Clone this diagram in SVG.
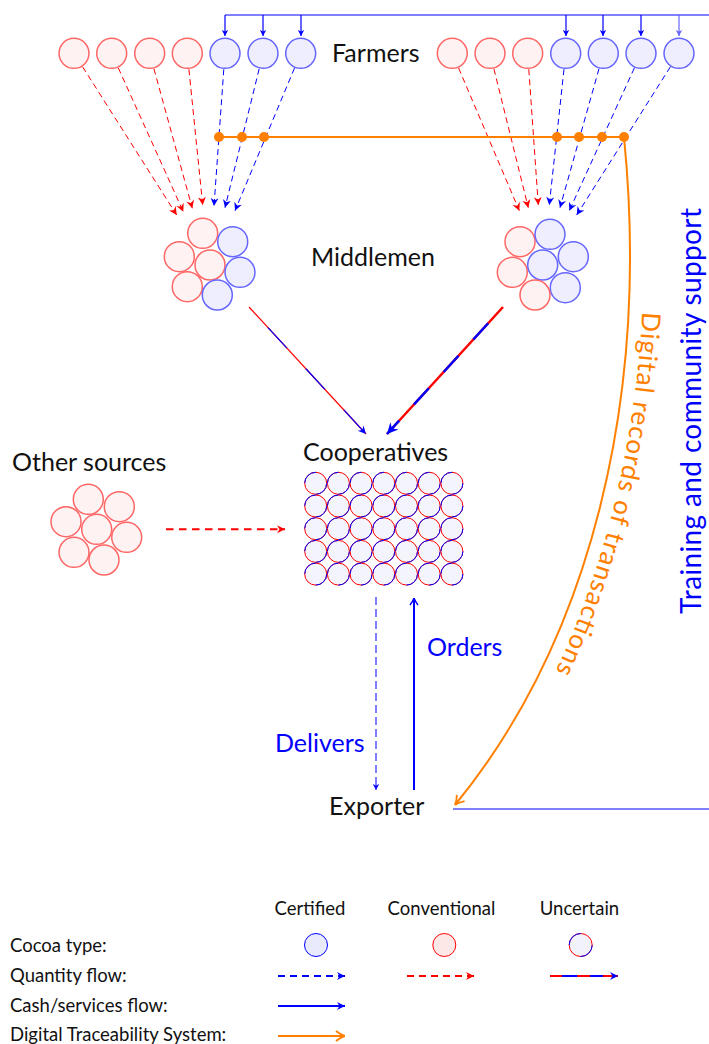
<svg xmlns="http://www.w3.org/2000/svg" xmlns:xlink="http://www.w3.org/1999/xlink" width="709" height="1044" viewBox="0 0 709 1044">
<style>
text { font-family: Lato, "Noto Sans", "DejaVu Sans", sans-serif; }
.lbl { font-size: 25px; fill: #111; }
.leg { font-size: 18.5px; fill: #111; }
.fr { fill: #fff2f2; stroke: #ff6666; stroke-width: 1.5; }
.fb { fill: #eeeeff; stroke: #6666ff; stroke-width: 1.5; }
.qr { fill: none; stroke: #ff0000; stroke-width: 1; stroke-dasharray: 6 4; marker-end: url(#hr); }
.qb { fill: none; stroke: #0000ff; stroke-width: 1; stroke-dasharray: 6 4; marker-end: url(#hb); }
.cash { fill: none; stroke: #0000ff; stroke-width: 1.2; }
.down { fill: none; stroke: #0000ff; stroke-width: 1.2; marker-end: url(#hbs); }
.org { fill: none; stroke: #ff8000; stroke-width: 2; }
.dot { fill: #ff8000; }
</style>
<defs>
<marker id="hr" viewBox="-10 -5 10 10" refX="0" refY="0" markerWidth="10" markerHeight="10" markerUnits="userSpaceOnUse" orient="auto"><path d="M0,0 L-8,-4 L-5.5,0 L-8,4 Z" fill="#ff0000"/></marker>
<marker id="hb" viewBox="-10 -5 10 10" refX="0" refY="0" markerWidth="10" markerHeight="10" markerUnits="userSpaceOnUse" orient="auto"><path d="M0,0 L-8,-4 L-5.5,0 L-8,4 Z" fill="#0000ff"/></marker>
<marker id="hbs" viewBox="-10 -5 10 10" refX="0" refY="0" markerWidth="10" markerHeight="10" markerUnits="userSpaceOnUse" orient="auto"><path d="M0,0 L-6,-3.2 L-4.5,0 L-6,3.2 Z" fill="#0000ff"/></marker>
<marker id="hbs2" viewBox="-10 -5 10 10" refX="0" refY="0" markerWidth="10" markerHeight="10" markerUnits="userSpaceOnUse" orient="auto"><path d="M0,0 L-6,-3.2 L-4.5,0 L-6,3.2 Z" fill="#6666ff"/></marker>
<marker id="hbig" viewBox="-14 -7 14 14" refX="0" refY="0" markerWidth="14" markerHeight="14" markerUnits="userSpaceOnUse" orient="auto"><path d="M0,0 L-11,-5.5 L-7.5,0 L-11,5.5 Z" fill="#0000ff"/></marker>
<marker id="hbo" viewBox="-10 -5 10 10" refX="0" refY="0" markerWidth="10" markerHeight="10" markerUnits="userSpaceOnUse" orient="auto"><path d="M-7,-4 Q-3,-1 0,0 Q-3,1 -7,4" fill="none" stroke="#0000ff" stroke-width="1.4"/></marker>
<marker id="ho" viewBox="-12 -6 12 12" refX="0" refY="0" markerWidth="12" markerHeight="12" markerUnits="userSpaceOnUse" orient="auto"><path d="M-9,-5 Q-4,-1 0,0 Q-4,1 -9,5" fill="none" stroke="#ff8000" stroke-width="1.8"/></marker>
<g id="uc"><circle r="11" fill="#f4f4fc" stroke="#ff0000" stroke-width="1"/><circle r="11" fill="none" stroke="#0000ff" stroke-width="1" stroke-dasharray="17.28 17.28"/></g>
<path id="tp" d="M638,137 C664,399 601,649 466,814"/>
</defs>

<g id="connectors">
  <!-- top cash/services line -->
  <path class="cash" d="M225,15 H712"/>
  <path class="down" d="M225,15 V36"/>
  <path class="down" d="M263,15 V36"/>
  <path class="down" d="M301,15 V36"/>
  <path class="down" d="M566,15 V36"/>
  <path class="down" d="M603,15 V36"/>
  <path class="down" d="M641,15 V36"/>
  <path d="M679,15 V36" fill="none" stroke="#6666ff" stroke-width="1.2" marker-end="url(#hbs2)"/>
  <!-- farmer quantity flows (left) -->
  <path class="qr" d="M82.6,66.8 L176.7,215"/>
  <path class="qr" d="M118.3,67.9 L183.3,211.7"/>
  <path class="qr" d="M153.9,68.7 L192.3,208.3"/>
  <path class="qr" d="M188.9,69.2 L202.7,205"/>
  <path class="qb" d="M223.8,69.3 L214,206"/>
  <path class="qb" d="M259.2,68.8 L225,207.7"/>
  <path class="qb" d="M294.5,68.1 L235,210.7"/>
  <!-- farmer quantity flows (right) -->
  <path class="qr" d="M458.6,68 L519.3,210.7"/>
  <path class="qr" d="M493.9,68.8 L528.3,207.7"/>
  <path class="qr" d="M528.8,69.3 L538.3,205"/>
  <path class="qb" d="M564,69.2 L549.3,205"/>
  <path class="qb" d="M599,68.7 L560,207.7"/>
  <path class="qb" d="M634.4,67.9 L569.3,210.7"/>
  <path class="qb" d="M670.4,66.8 L576.7,215"/>
  <!-- digital traceability -->
  <path class="org" d="M219,137 H624"/>
  <path class="org" d="M624,137 C650,400 590,640 455,805" marker-end="url(#ho)"/>
  <circle class="dot" cx="219" cy="137" r="5"/>
  <circle class="dot" cx="242" cy="137" r="5"/>
  <circle class="dot" cx="264" cy="137" r="5"/>
  <circle class="dot" cx="557" cy="137" r="5"/>
  <circle class="dot" cx="579" cy="137" r="5"/>
  <circle class="dot" cx="602" cy="137" r="5"/>
  <circle class="dot" cx="624" cy="137" r="5"/>
  <!-- middlemen to cooperatives -->
  <path d="M249,307 L366,434" fill="none" stroke="#ff0000" stroke-width="1.2"/>
  <path d="M249,307 L366,434" fill="none" stroke="#0000ff" stroke-width="1.2" stroke-dasharray="28 28" stroke-dashoffset="-28" marker-end="url(#hb)"/>
  <path d="M503,307 L387,434" fill="none" stroke="#ff0000" stroke-width="2.5"/>
  <path d="M503,307 L387,434" fill="none" stroke="#0000ff" stroke-width="2.5" stroke-dasharray="22 22" stroke-dashoffset="-22" marker-end="url(#hbig)"/>
  <!-- other sources -->
  <path d="M166,529.3 H285" fill="none" stroke="#ff0000" stroke-width="2" stroke-dasharray="7.5 5.5" marker-end="url(#hr)"/>
  <!-- cooperatives / exporter -->
  <path d="M376,597 V790" fill="none" stroke="#0000ff" stroke-width="1" stroke-dasharray="8 4" marker-end="url(#hbs)"/>
  <path d="M414,790 V598" fill="none" stroke="#0000ff" stroke-width="2" marker-end="url(#hbo)"/>
  <path class="cash" d="M453,809 H712"/>
</g>

<g id="farmers-left">
  <circle class="fr" cx="74" cy="53.3" r="15"/>
  <circle class="fr" cx="111.7" cy="53.3" r="15"/>
  <circle class="fr" cx="149.7" cy="53.3" r="15"/>
  <circle class="fr" cx="187.3" cy="53.3" r="15"/>
  <circle class="fb" cx="225" cy="53.3" r="15"/>
  <circle class="fb" cx="263" cy="53.3" r="15"/>
  <circle class="fb" cx="300.7" cy="53.3" r="15"/>
</g>
<g id="farmers-right">
  <circle class="fr" cx="452.3" cy="53.3" r="15"/>
  <circle class="fr" cx="490" cy="53.3" r="15"/>
  <circle class="fr" cx="527.7" cy="53.3" r="15"/>
  <circle class="fb" cx="565.7" cy="53.3" r="15"/>
  <circle class="fb" cx="603.3" cy="53.3" r="15"/>
  <circle class="fb" cx="641" cy="53.3" r="15"/>
  <circle class="fb" cx="679" cy="53.3" r="15"/>
</g>
<g id="farmers-label"><text class="lbl" x="332" y="62">Farmers</text></g>

<g id="middlemen-left">
  <circle class="fr" cx="202.7" cy="233.3" r="15"/>
  <circle class="fb" cx="232.7" cy="241.7" r="15"/>
  <circle class="fr" cx="179.3" cy="256.7" r="15"/>
  <circle class="fr" cx="210" cy="265" r="15"/>
  <circle class="fb" cx="240" cy="272.3" r="15"/>
  <circle class="fr" cx="187.3" cy="286.7" r="15"/>
  <circle class="fb" cx="217.3" cy="295" r="15"/>
</g>
<g id="middlemen-right">
  <circle class="fr" cx="520" cy="241.7" r="15"/>
  <circle class="fb" cx="550" cy="234.3" r="15"/>
  <circle class="fb" cx="573.3" cy="256.7" r="15"/>
  <circle class="fr" cx="512.3" cy="272.3" r="15"/>
  <circle class="fb" cx="542.7" cy="265" r="15"/>
  <circle class="fb" cx="565.3" cy="287.7" r="15"/>
  <circle class="fr" cx="535" cy="295" r="15"/>
</g>
<g id="middlemen-label"><text class="lbl" x="311" y="266">Middlemen</text></g>

<g id="other-sources">
  <text class="lbl" x="12" y="471">Other sources</text>
  <circle class="fr" cx="88.3" cy="499.3" r="15"/>
  <circle class="fr" cx="119.3" cy="506.7" r="15"/>
  <circle class="fr" cx="66" cy="521.7" r="15"/>
  <circle class="fr" cx="96.7" cy="529.3" r="15"/>
  <circle class="fr" cx="126.7" cy="537.3" r="15"/>
  <circle class="fr" cx="74" cy="552.3" r="15"/>
  <circle class="fr" cx="104" cy="560" r="15"/>
</g>

<g id="cooperatives">
  <text class="lbl" x="303" y="460.5">Cooperatives</text>
  <use xlink:href="#uc" x="315.7" y="483.3"/><use xlink:href="#uc" x="338.4" y="483.3"/><use xlink:href="#uc" x="361.1" y="483.3"/><use xlink:href="#uc" x="383.8" y="483.3"/><use xlink:href="#uc" x="406.5" y="483.3"/><use xlink:href="#uc" x="429.2" y="483.3"/><use xlink:href="#uc" x="451.9" y="483.3"/>
  <use xlink:href="#uc" x="315.7" y="506"/><use xlink:href="#uc" x="338.4" y="506"/><use xlink:href="#uc" x="361.1" y="506"/><use xlink:href="#uc" x="383.8" y="506"/><use xlink:href="#uc" x="406.5" y="506"/><use xlink:href="#uc" x="429.2" y="506"/><use xlink:href="#uc" x="451.9" y="506"/>
  <use xlink:href="#uc" x="315.7" y="528.7"/><use xlink:href="#uc" x="338.4" y="528.7"/><use xlink:href="#uc" x="361.1" y="528.7"/><use xlink:href="#uc" x="383.8" y="528.7"/><use xlink:href="#uc" x="406.5" y="528.7"/><use xlink:href="#uc" x="429.2" y="528.7"/><use xlink:href="#uc" x="451.9" y="528.7"/>
  <use xlink:href="#uc" x="315.7" y="551.4"/><use xlink:href="#uc" x="338.4" y="551.4"/><use xlink:href="#uc" x="361.1" y="551.4"/><use xlink:href="#uc" x="383.8" y="551.4"/><use xlink:href="#uc" x="406.5" y="551.4"/><use xlink:href="#uc" x="429.2" y="551.4"/><use xlink:href="#uc" x="451.9" y="551.4"/>
  <use xlink:href="#uc" x="315.7" y="574.1"/><use xlink:href="#uc" x="338.4" y="574.1"/><use xlink:href="#uc" x="361.1" y="574.1"/><use xlink:href="#uc" x="383.8" y="574.1"/><use xlink:href="#uc" x="406.5" y="574.1"/><use xlink:href="#uc" x="429.2" y="574.1"/><use xlink:href="#uc" x="451.9" y="574.1"/>
</g>

<g id="exporter"><text class="lbl" x="329" y="815">Exporter</text></g>

<g id="edge-labels">
  <text class="lbl" x="427" y="656" style="fill:#0000ff">Orders</text>
  <text class="lbl" x="275" y="752" style="fill:#0000ff">Delivers</text>
  <text transform="translate(701,614) rotate(-90)" style="font-size:28px;fill:#0000ff" textLength="406" lengthAdjust="spacing">Training and community support</text>
  <text style="font-size:26px;fill:#ff8000"><textPath xlink:href="#tp" startOffset="175" textLength="372" lengthAdjust="spacing">Digital records of transactions</textPath></text>
</g>

<g id="legend">
  <text class="leg" x="310" y="915" text-anchor="middle">Certified</text>
  <text class="leg" x="441.5" y="915" text-anchor="middle">Conventional</text>
  <text class="leg" x="579.5" y="915" text-anchor="middle">Uncertain</text>
  <text class="leg" x="10" y="951.5">Cocoa type:</text>
  <text class="leg" x="10" y="981.5">Quantity flow:</text>
  <text class="leg" x="10" y="1011.5">Cash/services flow:</text>
  <text class="leg" x="10" y="1041">Digital Traceability System:</text>
  <circle cx="316" cy="945" r="11.5" fill="#eaeafd" stroke="#0000ff" stroke-width="1"/>
  <circle cx="444.3" cy="945" r="11.5" fill="#fde8e8" stroke="#ff0000" stroke-width="1"/>
  <circle cx="580.7" cy="945" r="11.5" fill="#f2f2fb" stroke="#ff0000" stroke-width="1"/>
  <circle cx="580.7" cy="945" r="11.5" fill="none" stroke="#0000ff" stroke-width="1" stroke-dasharray="18.06 18.06" transform="rotate(180 580.7 945)"/>
  <path d="M278,976 H345" fill="none" stroke="#0000ff" stroke-width="2" stroke-dasharray="7 5" marker-end="url(#hb)"/>
  <path d="M407,976 H474" fill="none" stroke="#ff0000" stroke-width="2" stroke-dasharray="7 5" marker-end="url(#hr)"/>
  <path d="M550,976 H617" fill="none" stroke="#ff0000" stroke-width="2"/>
  <path d="M562,976 H577 M590,976 H603" fill="none" stroke="#0000ff" stroke-width="2"/>
  <path d="M608,976 H618" fill="none" stroke="#ff0000" stroke-width="2" marker-end="url(#hb)"/>
  <path d="M278,1006 H345" fill="none" stroke="#0000ff" stroke-width="2" marker-end="url(#hb)"/>
  <path d="M278,1036 H345" fill="none" stroke="#ff8000" stroke-width="2" marker-end="url(#ho)"/>
</g>
</svg>
